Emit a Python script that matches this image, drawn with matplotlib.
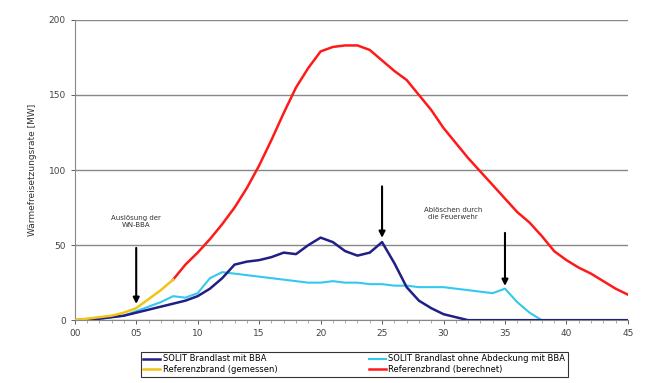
import numpy as np
import matplotlib.pyplot as plt
from matplotlib.ticker import MultipleLocator

# time [min]
t_full = list(range(0, 46))
t_ref_meas = [0, 1, 2, 3, 4, 5, 6, 7, 8]
t_ref_calc = list(range(8, 46))

# heat release rate [MW]
solit_bba = [0, 0.5, 1, 2, 3, 5, 7, 9, 11, 13, 16, 21, 28, 37, 39, 40, 42, 45, 44, 50,
             55, 52, 46, 43, 45, 52, 38, 22, 13, 8, 4, 2, 0, 0, 0, 0, 0, 0, 0, 0,
             0, 0, 0, 0, 0, 0]
solit_open = [0, 0.5, 1, 2, 3, 6, 9, 12, 16, 15, 18, 28, 32, 31, 30, 29, 28, 27, 26, 25,
              25, 26, 25, 25, 24, 24, 23, 23, 22, 22, 22, 21, 20, 19, 18, 21, 12, 5, 0, 0,
              0, 0, 0, 0, 0, 0]
ref_meas = [0, 1, 2, 3, 5, 8, 14, 20, 27]
ref_calc = [27, 37, 45, 54, 64, 75, 88, 103, 120, 138, 155, 168, 179, 182, 183, 183, 180, 173,
            166, 160, 150, 140, 128, 118, 108, 99, 90, 81, 72, 65, 56, 46, 40, 35, 31, 26,
            21, 17]

xtick_labels = ['00', '05', '10', '15', '20', '25', '30', '35', '40', '45']

fig = plt.figure(figsize=(6.5, 3.83), dpi=100)
ax = fig.add_axes([0.115, 0.164, 0.851, 0.784])

l1, = ax.plot(t_full, solit_bba, color='#1f1f85', lw=1.8, label='SOLIT Brandlast mit BBA', zorder=4)
l2, = ax.plot(t_full, solit_open, color='#33c8ee', lw=1.5, label='SOLIT Brandlast ohne Abdeckung mit BBA', zorder=3)
l3, = ax.plot(t_ref_meas, ref_meas, color='#f2c318', lw=1.8, label='Referenzbrand (gemessen)', zorder=5)
l4, = ax.plot(t_ref_calc, ref_calc, color='#ff1a1a', lw=1.8, label='Referenzbrand (berechnet)', zorder=2)

ax.set_xlim(0, 45)
ax.set_ylim(0, 200)
ax.set_xticks(range(0, 46, 5))
ax.set_xticklabels(xtick_labels)
ax.set_yticks([0, 50, 100, 150, 200])
ax.xaxis.set_minor_locator(MultipleLocator(1))
ax.tick_params(axis='both', labelsize=6.5, colors='#444', length=3, width=0.6)
ax.tick_params(axis='x', which='minor', length=2, width=0.5, colors='#888')
ax.yaxis.grid(True, color='#888', lw=1.0)
ax.set_axisbelow(True)
for s in ['top', 'right']:
    ax.spines[s].set_visible(False)
for s in ['left', 'bottom']:
    ax.spines[s].set_color('#888')

ax.set_ylabel('Wärmefreisetzungsrate [MW]', fontsize=6.5, color='#333', labelpad=8)

# annotations
ax.annotate('', xy=(5, 9), xytext=(5, 50),
            arrowprops=dict(arrowstyle='-|>', color='black', lw=1.5, mutation_scale=9))
ax.text(5, 66, 'Auslösung der\nWN-BBA', ha='center', va='center', fontsize=5, color='#333')
ax.annotate('', xy=(25, 53), xytext=(25, 91),
            arrowprops=dict(arrowstyle='-|>', color='black', lw=1.5, mutation_scale=9))
ax.annotate('', xy=(35, 21), xytext=(35, 60),
            arrowprops=dict(arrowstyle='-|>', color='black', lw=1.5, mutation_scale=9))
ax.text(30.8, 71, 'Ablöschen durch\ndie Feuerwehr', ha='center', va='center', fontsize=5, color='#333')

# legend rows: (navy, cyan) / (yellow, red)
leg = fig.legend([l1, l3, l2, l4], [l1.get_label(), l3.get_label(), l2.get_label(), l4.get_label()],
                 loc='upper center', bbox_to_anchor=(0.545, 0.092), ncol=2, fontsize=6,
                 frameon=True, fancybox=False, edgecolor='black', handlelength=2.0,
                 handletextpad=0.3, columnspacing=11, borderpad=0.3, labelspacing=0.2)
leg.get_frame().set_linewidth(0.8)

fig.savefig('out.png', dpi=100)
